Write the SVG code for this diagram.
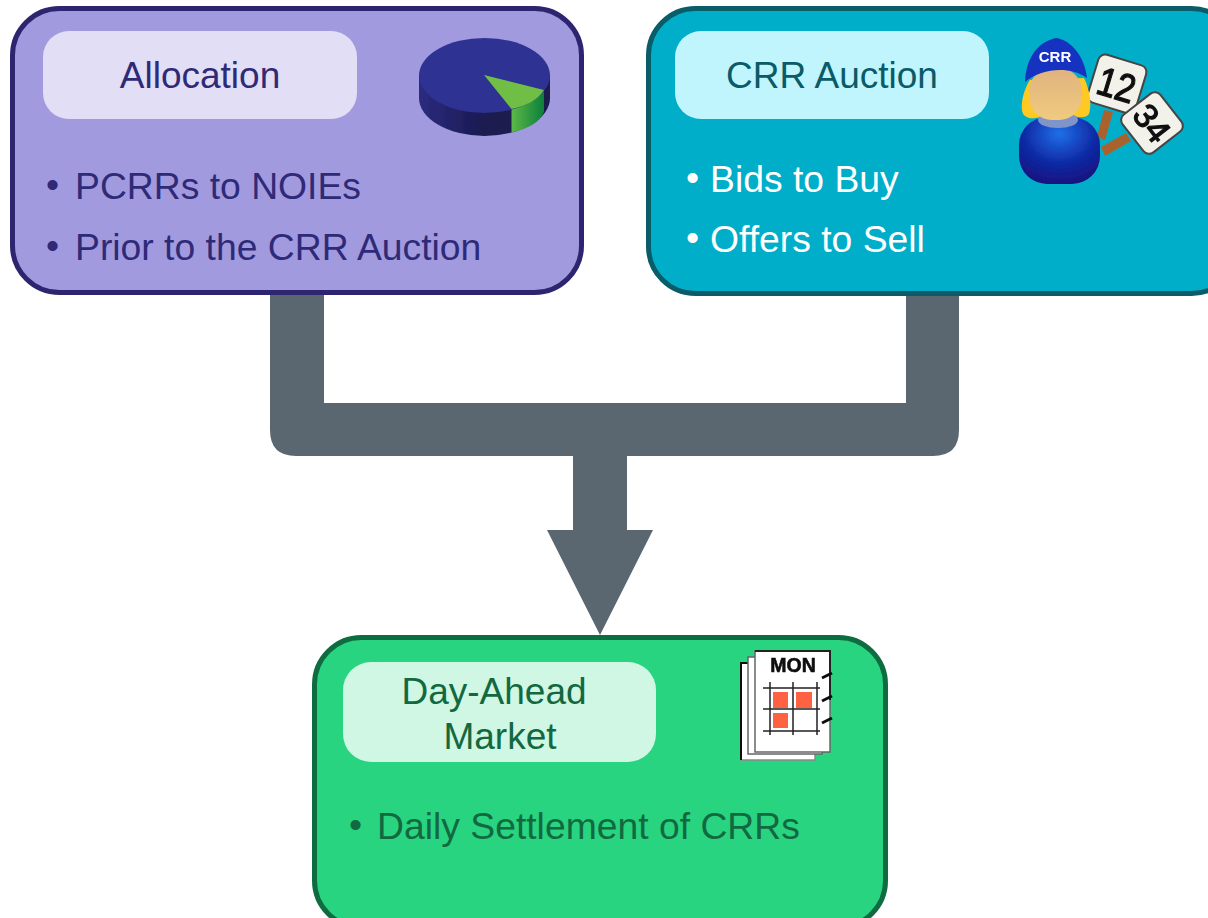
<svg xmlns="http://www.w3.org/2000/svg" width="1208" height="918" viewBox="0 0 1208 918">
<style>
text{font-family:"Liberation Sans",Arial,sans-serif}
.t{font-size:37px;text-anchor:middle}
.b{font-size:37.300px}
.alloc{fill:#2f2a78}
.crr{fill:#0a5a68}
.dam{fill:#12693f}
.light{fill:#fff}
</style>
<defs>
<linearGradient id="pieSide" x1="0" x2="1" y1="0" y2="0"><stop offset="0" stop-color="#2b2b80"/><stop offset=".5" stop-color="#1a1a50"/><stop offset="1" stop-color="#1a1a4c"/></linearGradient>
<linearGradient id="greenSide" x1="0" x2="1" y1="0" y2="0"><stop offset="0" stop-color="#5cb848"/><stop offset="1" stop-color="#0c7f3a"/></linearGradient>
<radialGradient id="shirt" cx=".5" cy=".25" r=".8"><stop offset="0" stop-color="#1f6fe8"/><stop offset=".55" stop-color="#0f2aa5"/><stop offset="1" stop-color="#15107a"/></radialGradient>
<linearGradient id="face" x1="0" x2="0" y1="0" y2="1"><stop offset="0" stop-color="#e0b27f"/><stop offset="1" stop-color="#f0cb7e"/></linearGradient>
<filter id="soft" x="-5%" y="-5%" width="110%" height="110%"><feGaussianBlur stdDeviation=".45"/></filter>
</defs>
<rect width="1208" height="918" fill="#fff"/>
<g id="connectors">
<path d="M270 294H324V403H906V294H959V430Q959 456 933 456H627V530H653L600 635L547 530H573V456H296Q270 456 270 430Z" fill="#5b6770"/>
</g>
<g id="allocation">
<rect x="12.500" y="8.500" width="569" height="284" rx="47" fill="#a29ade" stroke="#2d2570" stroke-width="5"/>
<rect x="43" y="31" width="314" height="88" rx="26" fill="#e2deF5"/>
<text class="t alloc" x="200" y="88">Allocation</text>
<text class="b alloc" x="46" y="197">•</text><text class="b alloc" x="75" y="199">PCRRs to NOIEs</text>
<text class="b alloc" x="46" y="258">•</text><text class="b alloc" x="75" y="260">Prior to the CRR Auction</text>
<g id="pie-icon" filter="url(#soft)">
<path d="M419 75V98A65.500 38 0 0 0 550 98V75Z" fill="url(#pieSide)"/>
<path d="M511.500 109V132.500C528 129 540 122 544 112V90Z" fill="url(#greenSide)"/>
<ellipse cx="484.500" cy="75.500" rx="65.500" ry="37.500" fill="#2e3192"/>
<path d="M484 75L544 90C538 100 526 106 511.500 109Z" fill="#6fbe44"/>
</g>
</g>
<g id="crr-auction">
<rect x="648.500" y="8.500" width="590" height="285" rx="47" fill="#00aeca" stroke="#0a5c68" stroke-width="5"/>
<rect x="675" y="31" width="314" height="88" rx="26" fill="#c0f5fd"/>
<text class="t crr" x="832" y="88">CRR Auction</text>
<text class="b light" x="686" y="190">•</text><text class="b light" x="710" y="192">Bids to Buy</text>
<text class="b light" x="686" y="250">•</text><text class="b light" x="710" y="252">Offers to Sell</text>
<g id="auction-icon" filter="url(#soft)">
<path d="M1104 110L1113 112L1105 140L1097 137Z" fill="#a9622e"/>
<path d="M1101 147L1126 133L1131 141L1105 156Z" fill="#a9622e"/>
<rect x="1092" y="59" width="50" height="50" rx="7" transform="rotate(17 1117 84)" fill="#f2f1ea" stroke="#444" stroke-width="2"/>
<text x="1117" y="99" font-size="40" text-anchor="middle" transform="rotate(17 1117 84) translate(1117 0) scale(.85 1) translate(-1117 0)" fill="#111" stroke="#111" stroke-width="1.300">12</text>
<rect x="1128" y="99" width="48" height="48" rx="7" transform="rotate(52 1152 123)" fill="#f2f1ea" stroke="#444" stroke-width="2"/>
<text x="1152" y="135" font-size="34" text-anchor="middle" transform="rotate(52 1152 123)" fill="#111" stroke="#111" stroke-width="1.200">34</text>
<path d="M1030 80C1022 92 1019 112 1025 116C1030 120 1038 118 1044 116H1074C1080 118 1086 118 1089 114C1092 105 1090 90 1084 78Z" fill="#fdc921"/>
<rect x="1019" y="117" width="81" height="67" rx="28" fill="url(#shirt)"/>
<ellipse cx="1058" cy="120" rx="20" ry="8" fill="#7f94c8"/>
<rect x="1029" y="68" width="53" height="52" rx="23" fill="url(#face)"/>
<path d="M1025 82C1026 60 1036 42 1056 38C1072 40 1085 58 1087 78C1070 66 1042 68 1025 82Z" fill="#1530c0"/>
<text x="1055" y="62" font-size="15" font-weight="700" text-anchor="middle" fill="#fff">CRR</text>
</g>
</g>
<g id="day-ahead-market">
<rect x="314.500" y="637.500" width="571" height="290" rx="47" fill="#29d481" stroke="#0f6b40" stroke-width="5"/>
<rect x="343" y="662" width="313" height="100" rx="28" fill="#d0f6e4"/>
<text class="t dam" x="494" y="704">Day-Ahead</text>
<text class="t dam" x="500" y="749">Market</text>
<text class="b dam" x="349" y="837">•</text><text class="b dam" x="377" y="839">Daily Settlement of CRRs</text>
<g id="calendar-icon" filter="url(#soft)">
<rect x="741" y="663" width="74" height="97" fill="#fff" stroke="#888" stroke-width="1.500"/>
<path d="M741 760V663H748" fill="none" stroke="#111" stroke-width="2"/>
<rect x="748" y="657" width="74" height="97" fill="#fff" stroke="#666" stroke-width="1.500"/>
<rect x="755" y="651" width="75" height="101" fill="#fff" stroke="#666" stroke-width="1.500"/>
<path d="M755 651H830V700" fill="none" stroke="#222" stroke-width="2"/>
<text x="793" y="672" font-size="19.500" font-weight="700" text-anchor="middle" fill="#111" stroke="#111" stroke-width=".6">MON</text>
<g fill="#ff6243"><rect x="773" y="692" width="15" height="16"/><rect x="796" y="692" width="16" height="16"/><rect x="773" y="713" width="15" height="15"/></g>
<path d="M763 688H820M763 709H820M763 731H820M770 682V735M793 682V735M817 682V735" stroke="#222" stroke-width="1.500" fill="none"/>
<path d="M822 678L832 673M822 701L832 696M822 723L832 718" stroke="#111" stroke-width="3"/>
</g>
</g>
</svg>
